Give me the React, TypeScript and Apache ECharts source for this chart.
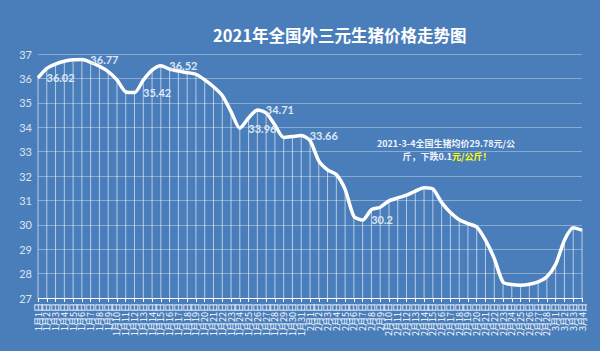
import React, { useEffect, useRef } from "react";
import * as echarts from "echarts";

const titleText = "2021年全国外三元生猪价格走势图";

const dates = [
  "1月1日","1月2日","1月3日","1月4日","1月5日","1月6日","1月7日","1月8日","1月9日","1月10日",
  "1月11日","1月12日","1月13日","1月14日","1月15日","1月16日","1月17日","1月18日","1月19日","1月20日",
  "1月21日","1月22日","1月23日","1月24日","1月25日","1月26日","1月27日","1月28日","1月29日","1月30日","1月31日",
  "2月1日","2月2日","2月3日","2月4日","2月5日","2月6日","2月7日","2月8日","2月9日","2月10日",
  "2月11日","2月12日","2月13日","2月14日","2月15日","2月16日","2月17日","2月18日","2月19日","2月20日",
  "2月21日","2月22日","2月23日","2月24日","2月25日","2月26日","2月27日","2月28日",
  "3月1日","3月2日","3月3日","3月4日",
];

const prices = [
  36.02, 36.41, 36.59, 36.70, 36.76, 36.77, 36.66, 36.50, 36.28, 35.94,
  35.45, 35.42, 35.93, 36.34, 36.52, 36.38, 36.30, 36.24, 36.17, 35.94,
  35.66, 35.30, 34.64, 33.96, 34.38, 34.71, 34.58, 34.09, 33.58, 33.62,
  33.66, 33.45, 32.62, 32.25, 32.06, 31.45, 30.35, 30.20, 30.62, 30.72,
  30.98, 31.10, 31.22, 31.38, 31.52, 31.47, 30.92, 30.50, 30.21, 30.05,
  29.91, 29.37, 28.62, 27.65, 27.55, 27.52, 27.56, 27.66, 27.87, 28.38,
  29.37, 29.88, 29.78,
];

const labeledIndices = [0, 5, 11, 14, 23, 25, 30, 37];

const yMin = 27;
const yMax = 37;
const yStep = 1;

const noteLine1 = "2021-3-4全国生猪均价29.78元/公";
const noteLine2a = "斤，下跌0.1";
const noteLine2b = "元/公斤！";

export default function App() {
  const ref = useRef<HTMLDivElement>(null);

  useEffect(() => {
    if (!ref.current) return;
    const chart = echarts.init(ref.current, null, { renderer: "svg" });
    const font = "Lato, 'Noto Sans CJK SC', sans-serif";
    const cjk = "'Noto Sans CJK SC', sans-serif";
    const lineData = prices.map((v, i) =>
      labeledIndices.includes(i)
        ? { value: v, label: { show: true } }
        : { value: v }
    );
    const noteStyle = {
      fontSize: 9,
      fontWeight: "bold",
      fontFamily: cjk,
      verticalAlign: "middle",
    };
    chart.setOption({
      animation: false,
      backgroundColor: "#4a7ebb",
      title: {
        text: titleText,
        left: 213,
        top: 27,
        padding: 0,
        textStyle: {
          color: "#ffffff",
          fontSize: 16.5,
          fontWeight: "bold",
          fontFamily: cjk,
        },
      },
      grid: {
        left: 38,
        right: 18,
        top: 54,
        bottom: 53,
        outerBoundsMode: "none",
        containLabel: false,
      },
      xAxis: {
        type: "category",
        data: dates,
        boundaryGap: false,
        axisLine: { show: true, lineStyle: { color: "#ffffff", width: 1 } },
        axisTick: { show: true, interval: 0, length: 4, lineStyle: { color: "#ffffff" } },
        axisLabel: {
          interval: 0,
          rotate: 90,
          margin: 5,
          color: "#ffffff",
          fontSize: 9,
          fontFamily: cjk,
        },
        splitLine: { show: false },
      },
      yAxis: {
        type: "value",
        min: yMin,
        max: yMax,
        interval: yStep,
        axisLine: { show: false },
        axisTick: { show: false },
        axisLabel: {
          color: "#dbe5f1",
          fontSize: 11,
          margin: 6,
          fontFamily: font,
        },
        splitLine: { show: true, lineStyle: { color: "rgba(255,255,255,0.35)", width: 1 } },
      },
      series: [
        {
          type: "custom",
          z: 2,
          silent: true,
          data: prices.map((v, i) => [i, v]),
          renderItem: (params: any, api: any) => {
            const top = api.coord([api.value(0), api.value(1)]);
            const bottom = api.coord([api.value(0), yMin]);
            return {
              type: "line",
              shape: { x1: top[0], y1: top[1], x2: bottom[0], y2: bottom[1] },
              style: { stroke: "rgba(255,255,255,0.6)", lineWidth: 1 },
            };
          },
        },
        {
          type: "line",
          z: 3,
          data: lineData,
          smooth: 0.25,
          symbol: "circle",
          symbolSize: 1,
          showSymbol: true,
          showAllSymbol: true,
          itemStyle: { color: "#ffffff" },
          lineStyle: { color: "#ffffff", width: 3.5 },
          label: {
            show: false,
            position: "right",
            distance: 8,
            color: "#dde7f3",
            fontSize: 11,
            fontWeight: "bold",
            fontFamily: font,
          },
        },
      ],
      graphic: [
        {
          type: "text",
          x: 446,
          y: 143,
          style: { ...noteStyle, text: noteLine1, align: "center", fill: "#f0f4fa" },
        },
        {
          type: "text",
          x: 452,
          y: 156.5,
          style: { ...noteStyle, text: noteLine2a, align: "right", fill: "#f0f4fa" },
        },
        {
          type: "text",
          x: 452,
          y: 156.5,
          style: { ...noteStyle, text: noteLine2b, align: "left", fill: "#ffff00" },
        },
      ],
    });
    return () => chart.dispose();
  }, []);

  return (
    <div
      ref={ref}
      style={{ position: "fixed", left: 0, top: 0, width: 600, height: 351 }}
    />
  );
}
